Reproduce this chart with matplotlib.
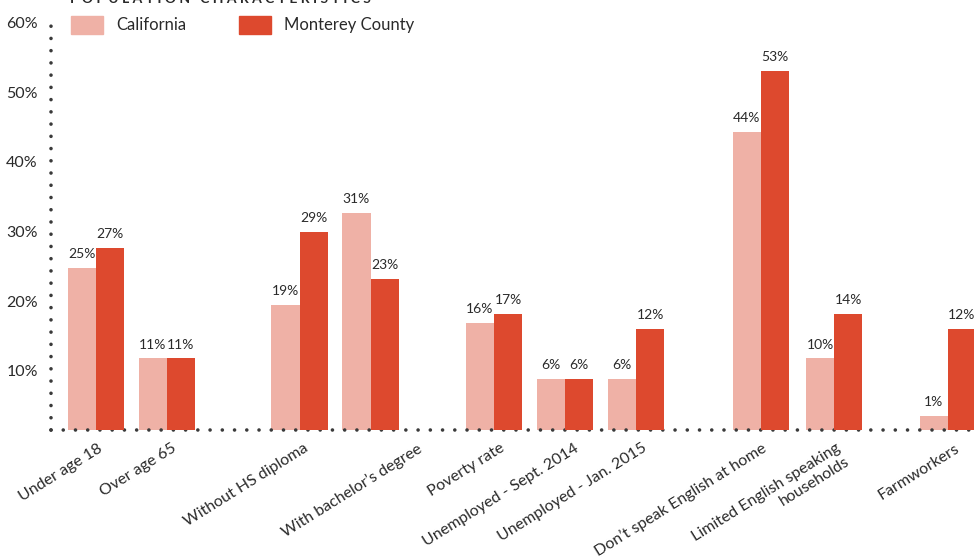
import matplotlib
matplotlib.use("Agg")
import matplotlib.pyplot as plt
from matplotlib.patches import Patch

plt.rcParams['font.family'] = ['Lato', 'DejaVu Sans']
plt.rcParams['lines.scale_dashes'] = False

# data (bar heights as drawn, labels as printed)
categories = ["Under age 18", "Over age 65", "Without HS diploma",
              "With bachelor\u2019s degree", "Poverty rate",
              "Unemployed - Sept. 2014", "Unemployed - Jan. 2015",
              "Don\u2019t speak English at home",
              "Limited English speaking\nhouseholds", "Farmworkers"]
california = [23.3, 10.3, 18.0, 31.2, 15.4, 7.3, 7.3, 42.8, 10.3, 2.0]
monterey = [26.1, 10.3, 28.4, 21.7, 16.7, 7.3, 14.5, 51.6, 16.7, 14.5]
california_lbl = ["25%", "11%", "19%", "31%", "16%", "6%", "6%", "44%", "10%", "1%"]
monterey_lbl = ["27%", "11%", "29%", "23%", "17%", "6%", "12%", "53%", "14%", "12%"]
yticks = [10, 20, 30, 40, 50, 60]

# layout
pos = [0.63, 1.63, 3.5, 4.5, 6.24, 7.24, 8.24, 10.0, 11.03, 12.63]
lbl_shift = [1, 3, 3, 33, 4, 6, 4, 0, 1, 5]   # in points
w = 0.395
pink = "#EFB1A6"
red = "#DD492E"
txt = "#2a2a2a"
dotc = "#3a3a3a"

fig = plt.figure(figsize=(9.74, 5.59), dpi=100)
ax = fig.add_axes([51/974, 129/559, 923/974, 418/559])

b1 = ax.bar([p - w/2 for p in pos], california, width=w, color=pink, zorder=1)
b2 = ax.bar([p + w/2 for p in pos], monterey, width=w, color=red, zorder=3)

# dotted axes
ax.plot([0, 13], [0, 0], color=dotc, lw=2.6, dashes=(0.01, 8.8),
        dash_capstyle='round', clip_on=False, zorder=2)
ax.plot([0, 0], [0, 59.5], color=dotc, lw=2.6, dashes=(0.01, 8.8),
        dash_capstyle='round', clip_on=False, zorder=2)

for p, v, s in zip(pos, california, california_lbl):
    ax.annotate(s, (p - w/2, v), xytext=(0, 7), textcoords='offset points',
                ha='center', va='baseline', fontsize=10, color=txt)
for p, v, s in zip(pos, monterey, monterey_lbl):
    ax.annotate(s, (p + w/2, v), xytext=(0, 7), textcoords='offset points',
                ha='center', va='baseline', fontsize=10, color=txt)

for t in yticks:
    ax.annotate(f"{t}%", (0, t), xycoords=('axes fraction', 'data'),
                xytext=(-9.5, -8.6), textcoords='offset points',
                ha='right', va='center', fontsize=11.5, color=txt)

for p, c, d in zip(pos, categories, lbl_shift):
    ax.annotate(c, (p, 0), xytext=(d, -8), textcoords='offset points',
                ha='right', va='top', rotation=32, rotation_mode='anchor',
                multialignment='right', fontsize=11.5, color=txt)

ax.set_xlim(0, 13)
ax.set_ylim(0, 60)
ax.set_xticks([])
ax.set_yticks([])
for sp in ax.spines.values():
    sp.set_visible(False)

fig.legend(handles=[Patch(color=pink), Patch(color=red)],
           labels=["California", "Monterey County"],
           loc='upper left', bbox_to_anchor=(71/974, 1 - 16/559), ncol=2,
           frameon=False, borderpad=0, borderaxespad=0, handlelength=1.92,
           handleheight=1.26, handletextpad=0.78, columnspacing=3.2,
           fontsize=12, labelcolor=txt)

# title is clipped by the top edge in the reference as well
fig.text(70/974, 1 - 3/559, "P O P U L A T I O N   C H A R A C T E R I S T I C S",
         fontsize=10, fontweight='bold', color=txt, va='baseline')

fig.savefig("out.png", dpi=100)
